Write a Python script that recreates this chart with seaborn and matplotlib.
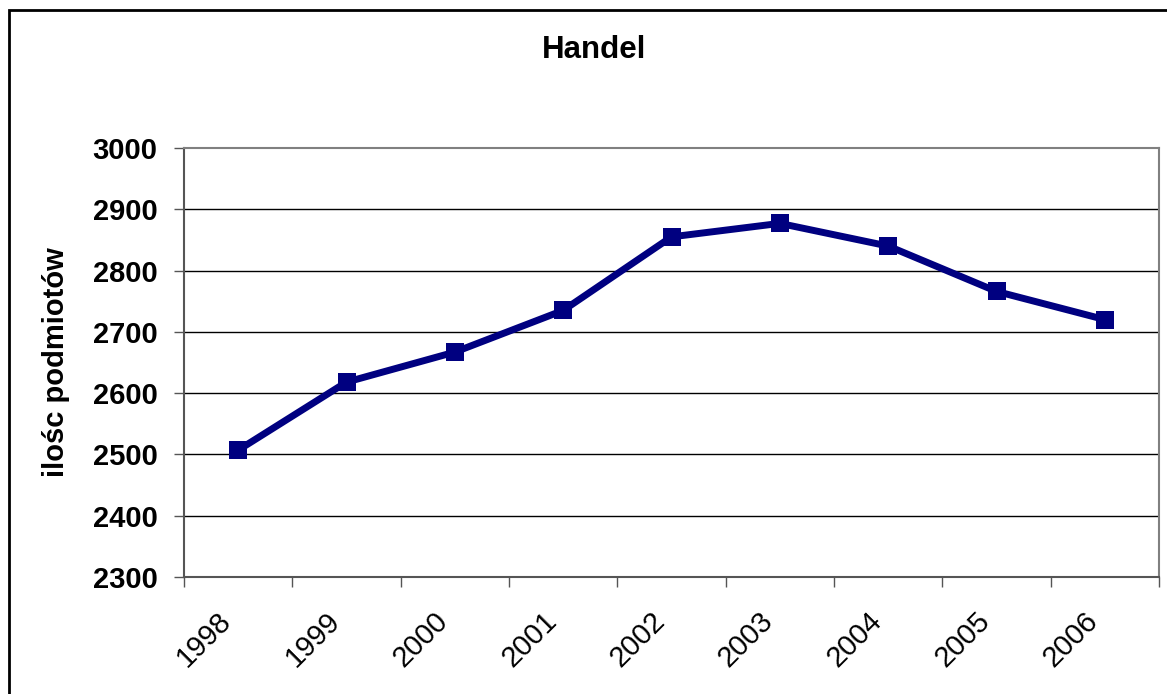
import matplotlib
matplotlib.use("Agg")
import matplotlib.pyplot as plt
import matplotlib.transforms as mtransforms
import seaborn as sns
import pandas as pd
import numpy as np
from matplotlib.patches import Rectangle

years = ["1998", "1999", "2000", "2001", "2002", "2003", "2004", "2005", "2006"]
values = [2507, 2618, 2667, 2735, 2855, 2877, 2840, 2766, 2720]
yticks = [2300, 2400, 2500, 2600, 2700, 2800, 2900, 3000]
title = "Handel"
ylabel = "ilośc podmiotów"

sns.set_theme(style="white")
plt.rcParams["font.family"] = ["Liberation Sans", "DejaVu Sans"]

df = pd.DataFrame({"pos": np.arange(len(years)), "value": values})

fig = plt.figure(figsize=(11.67, 6.94), dpi=100)
ax = fig.add_axes([184/1167, 1-577/694, (1159-184)/1167, (577-148)/694])

for y in yticks[1:-1]:
    ax.axhline(y, color="black", lw=1.0, zorder=1)

sns.lineplot(data=df, x="pos", y="value", ax=ax, color="#000080", lw=5.0,
             marker="s", markersize=12.5, markeredgewidth=0, zorder=3)

ax.set_xlim(-0.5, len(years) - 0.5)
ax.set_ylim(yticks[0], yticks[-1])
ax.set_yticks(yticks)
ax.set_yticklabels([str(v) for v in yticks], fontsize=21, fontweight="bold", color="black")
ax.set_xticks(np.arange(len(years)))
ax.set_xticks(np.arange(-0.5, len(years)), minor=True)
ax.tick_params(axis="x", which="major", length=0, pad=30)
ax.tick_params(axis="x", which="minor", length=7, width=1, color="#555555", bottom=True)
ax.tick_params(axis="y", which="major", length=7, width=1, color="#555555", left=True, pad=12)
ax.set_xticklabels(years, fontsize=21, rotation=45, ha="right", va="center",
                   rotation_mode="anchor", color="black")
offset = mtransforms.ScaledTranslation(-11/100, 2/100, fig.dpi_scale_trans)
for lbl in ax.get_xticklabels():
    lbl.set_transform(lbl.get_transform() + offset)

for s in ["top", "right"]:
    ax.spines[s].set_color("#808080")
    ax.spines[s].set_linewidth(1.5)
for s in ["left", "bottom"]:
    ax.spines[s].set_color("#555555")
    ax.spines[s].set_linewidth(1.5)

ax.set_xlabel("")
ax.set_ylabel(ylabel, fontsize=21, fontweight="bold", color="black")
ax.yaxis.set_label_coords(-0.117, 0.5)

fig.text(594/1167, 1-50/694, title, fontsize=22.5, fontweight="bold",
         ha="center", va="center", color="black")

fig.patches.append(Rectangle((9/1167, -0.1), 1.2, 1-10/694+0.1, transform=fig.transFigure,
                             fill=False, edgecolor="black", lw=2, zorder=10))

fig.savefig("out.png", dpi=100)
